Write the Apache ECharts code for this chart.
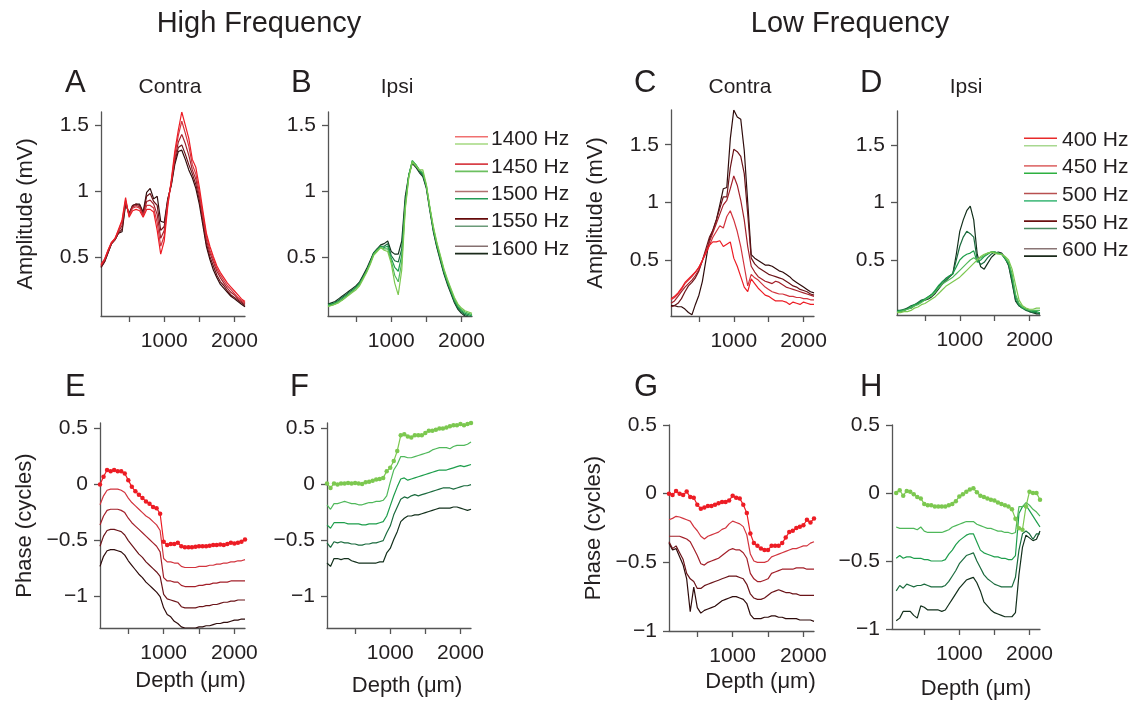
<!DOCTYPE html>
<html>
<head>
<meta charset="utf-8">
<script src="https://cdn.jsdelivr.net/npm/echarts@6/dist/echarts.min.js"></script>
<style>
html,body{margin:0;padding:0;background:#fff;}
#chart{width:1135px;height:701px;}
</style>
</head>
<body>
<div id="chart"></div>
<script>
// ---------- data ----------
const depth = [100,150,200,250,300,350,400,450,500,550,600,650,700,750,800,850,900,950,1000,1050,1100,1150,1200,1250,1300,1350,1400,1450,1500,1550,1600,1650,1700,1750,1800,1850,1900,1950,2000,2050,2100,2150];

const highFreq = ['1400 Hz','1450 Hz','1500 Hz','1550 Hz','1600 Hz'];
const lowFreq = ['400 Hz','450 Hz','500 Hz','550 Hz','600 Hz'];

const xTicks = [500,1000,1500,2000];
const xTickLabels = [1000,2000];
const ampTicks = [0.5,1,1.5];
const phaseTicksHigh = [-1,-0.5,0,0.5];
const phaseTicksLow = [-1,-0.5,0,0.5];

// A: High frequency, Contra amplitude
const ampA0 = [0.44,0.48,0.55,0.61,0.64,0.71,0.78,0.95,0.80,0.85,0.86,0.85,0.80,0.86,0.86,0.84,0.70,0.52,0.62,0.88,1.08,1.30,1.46,1.60,1.50,1.40,1.24,1.18,1.03,0.85,0.68,0.58,0.50,0.43,0.38,0.34,0.30,0.27,0.24,0.21,0.18,0.16];
const ampA1 = [0.44,0.48,0.55,0.61,0.64,0.70,0.77,0.93,0.81,0.87,0.88,0.87,0.81,0.89,0.89,0.87,0.76,0.58,0.66,0.90,1.07,1.27,1.42,1.53,1.44,1.34,1.20,1.13,0.99,0.82,0.66,0.55,0.48,0.41,0.36,0.32,0.28,0.25,0.22,0.19,0.17,0.15];
const ampA2 = [0.43,0.47,0.54,0.60,0.63,0.69,0.74,0.92,0.82,0.88,0.89,0.88,0.82,0.92,0.93,0.90,0.82,0.64,0.70,0.92,1.06,1.24,1.37,1.43,1.36,1.27,1.16,1.09,0.96,0.80,0.63,0.53,0.46,0.39,0.34,0.30,0.26,0.23,0.21,0.18,0.16,0.14];
const ampA3 = [0.42,0.46,0.53,0.60,0.63,0.68,0.71,0.91,0.82,0.89,0.90,0.89,0.83,0.96,0.98,0.92,0.89,0.70,0.73,0.93,1.05,1.22,1.33,1.35,1.28,1.20,1.13,1.05,0.93,0.77,0.60,0.50,0.43,0.36,0.31,0.28,0.24,0.21,0.19,0.17,0.15,0.13];
const ampA4 = [0.42,0.46,0.53,0.60,0.63,0.68,0.69,0.90,0.83,0.89,0.90,0.90,0.84,0.99,1.02,0.94,0.96,0.77,0.76,0.94,1.04,1.20,1.30,1.31,1.24,1.16,1.10,1.02,0.90,0.74,0.58,0.48,0.40,0.34,0.29,0.26,0.23,0.20,0.18,0.16,0.14,0.12];

// B: High frequency, Ipsi amplitude
const ampB0 = [0.12,0.13,0.14,0.15,0.17,0.19,0.21,0.23,0.25,0.28,0.33,0.38,0.44,0.51,0.54,0.57,0.55,0.54,0.45,0.30,0.21,0.40,0.86,1.10,1.22,1.19,1.16,1.16,1.05,0.88,0.73,0.61,0.51,0.41,0.33,0.26,0.19,0.14,0.11,0.09,0.08,0.07];
const ampB1 = [0.13,0.13,0.14,0.16,0.17,0.19,0.22,0.24,0.26,0.29,0.34,0.39,0.45,0.52,0.55,0.57,0.56,0.56,0.47,0.36,0.31,0.46,0.88,1.11,1.23,1.20,1.16,1.14,1.04,0.87,0.72,0.60,0.50,0.40,0.32,0.25,0.18,0.13,0.10,0.08,0.07,0.06];
const ampB2 = [0.13,0.14,0.15,0.16,0.18,0.20,0.22,0.24,0.27,0.30,0.34,0.39,0.45,0.52,0.55,0.58,0.57,0.58,0.49,0.42,0.39,0.51,0.90,1.12,1.23,1.20,1.16,1.13,1.04,0.87,0.71,0.59,0.49,0.39,0.31,0.24,0.17,0.12,0.09,0.07,0.06,0.05];
const ampB3 = [0.14,0.14,0.15,0.17,0.19,0.21,0.23,0.25,0.27,0.30,0.35,0.40,0.46,0.53,0.56,0.58,0.58,0.60,0.51,0.47,0.46,0.56,0.92,1.12,1.22,1.19,1.15,1.12,1.03,0.86,0.70,0.58,0.48,0.38,0.30,0.23,0.16,0.11,0.08,0.06,0.05,0.04];
const ampB4 = [0.14,0.15,0.16,0.18,0.20,0.22,0.24,0.26,0.28,0.31,0.36,0.41,0.47,0.53,0.56,0.59,0.60,0.62,0.54,0.52,0.52,0.62,0.96,1.12,1.21,1.18,1.14,1.11,1.02,0.85,0.69,0.57,0.47,0.37,0.29,0.22,0.15,0.10,0.07,0.05,0.04,0.03];

// C: Low frequency, Contra amplitude
const ampC0 = [0.17,0.19,0.22,0.26,0.31,0.34,0.37,0.40,0.44,0.50,0.57,0.63,0.66,0.66,0.67,0.62,0.64,0.66,0.52,0.45,0.36,0.27,0.23,0.34,0.30,0.26,0.23,0.20,0.19,0.17,0.15,0.15,0.15,0.14,0.12,0.14,0.13,0.12,0.14,0.13,0.12,0.12];
const ampC1 = [0.16,0.18,0.21,0.25,0.30,0.33,0.36,0.40,0.44,0.50,0.56,0.63,0.70,0.75,0.80,0.78,0.88,0.93,0.85,0.75,0.62,0.45,0.28,0.38,0.35,0.33,0.30,0.27,0.25,0.23,0.22,0.21,0.21,0.20,0.19,0.19,0.18,0.18,0.17,0.17,0.16,0.16];
const ampC2 = [0.13,0.15,0.19,0.23,0.27,0.30,0.33,0.37,0.42,0.50,0.58,0.66,0.74,0.82,0.90,0.98,1.02,1.12,1.23,1.15,1.02,0.85,0.62,0.45,0.40,0.36,0.34,0.32,0.31,0.30,0.32,0.31,0.29,0.27,0.26,0.25,0.24,0.23,0.22,0.21,0.20,0.19];
const ampC3 = [0.10,0.11,0.13,0.17,0.23,0.28,0.31,0.35,0.41,0.50,0.60,0.70,0.76,0.85,0.95,1.05,1.05,1.30,1.46,1.44,1.40,1.25,0.90,0.52,0.47,0.44,0.42,0.40,0.38,0.37,0.36,0.35,0.34,0.32,0.30,0.28,0.27,0.25,0.24,0.23,0.21,0.20];
const ampC4 = [0.11,0.11,0.10,0.10,0.08,0.05,0.03,0.12,0.20,0.32,0.50,0.68,0.76,0.85,0.98,1.12,1.13,1.55,1.80,1.74,1.72,1.45,1.00,0.55,0.52,0.50,0.48,0.46,0.46,0.45,0.43,0.41,0.40,0.38,0.36,0.33,0.31,0.29,0.27,0.25,0.23,0.22];

// D: Low frequency, Ipsi amplitude
const ampD0 = [0.04,0.04,0.05,0.05,0.06,0.08,0.09,0.11,0.12,0.14,0.16,0.18,0.21,0.24,0.27,0.29,0.31,0.33,0.35,0.38,0.41,0.44,0.47,0.50,0.53,0.55,0.56,0.57,0.56,0.55,0.55,0.53,0.50,0.42,0.28,0.15,0.10,0.08,0.07,0.07,0.08,0.08];
const ampD1 = [0.05,0.05,0.06,0.07,0.08,0.10,0.11,0.13,0.15,0.17,0.19,0.22,0.26,0.29,0.31,0.33,0.35,0.38,0.41,0.44,0.47,0.50,0.52,0.50,0.52,0.54,0.56,0.57,0.57,0.56,0.55,0.52,0.48,0.38,0.20,0.12,0.09,0.07,0.06,0.06,0.06,0.06];
const ampD2 = [0.05,0.06,0.06,0.07,0.09,0.11,0.12,0.14,0.16,0.18,0.20,0.24,0.28,0.31,0.33,0.36,0.38,0.44,0.50,0.53,0.55,0.56,0.58,0.48,0.50,0.53,0.55,0.57,0.57,0.56,0.55,0.51,0.47,0.35,0.18,0.11,0.08,0.07,0.06,0.05,0.05,0.04];
const ampD3 = [0.06,0.06,0.07,0.08,0.10,0.11,0.13,0.15,0.16,0.18,0.20,0.23,0.27,0.31,0.34,0.36,0.38,0.50,0.62,0.70,0.75,0.73,0.70,0.50,0.46,0.48,0.52,0.55,0.57,0.56,0.55,0.51,0.46,0.32,0.15,0.10,0.08,0.06,0.05,0.04,0.04,0.03];
const ampD4 = [0.05,0.05,0.06,0.08,0.08,0.10,0.12,0.14,0.15,0.16,0.18,0.21,0.25,0.29,0.32,0.35,0.38,0.55,0.75,0.85,0.93,0.97,0.85,0.55,0.44,0.42,0.47,0.52,0.55,0.57,0.56,0.52,0.45,0.30,0.14,0.10,0.08,0.07,0.05,0.04,0.03,0.03];

// E: High frequency, Contra phase
const phE0 = [0.00,0.07,0.13,0.12,0.13,0.12,0.12,0.10,0.04,-0.02,-0.06,-0.09,-0.12,-0.15,-0.17,-0.20,-0.21,-0.26,-0.51,-0.54,-0.53,-0.53,-0.52,-0.55,-0.56,-0.56,-0.56,-0.555,-0.55,-0.55,-0.55,-0.545,-0.54,-0.54,-0.535,-0.54,-0.53,-0.52,-0.525,-0.52,-0.51,-0.49];
const phE1 = [-0.18,-0.10,-0.05,-0.04,-0.04,-0.04,-0.05,-0.07,-0.12,-0.16,-0.19,-0.22,-0.25,-0.28,-0.30,-0.33,-0.36,-0.41,-0.66,-0.69,-0.69,-0.70,-0.70,-0.73,-0.74,-0.74,-0.74,-0.74,-0.73,-0.73,-0.73,-0.72,-0.72,-0.71,-0.71,-0.70,-0.70,-0.69,-0.69,-0.68,-0.68,-0.67];
const phE2 = [-0.36,-0.28,-0.23,-0.22,-0.22,-0.22,-0.23,-0.25,-0.30,-0.34,-0.37,-0.40,-0.43,-0.46,-0.49,-0.52,-0.55,-0.60,-0.83,-0.86,-0.86,-0.87,-0.87,-0.90,-0.91,-0.91,-0.91,-0.91,-0.90,-0.90,-0.89,-0.89,-0.88,-0.88,-0.87,-0.87,-0.87,-0.86,-0.86,-0.86,-0.86,-0.86];
const phE3 = [-0.55,-0.46,-0.41,-0.40,-0.40,-0.41,-0.42,-0.45,-0.50,-0.54,-0.58,-0.62,-0.65,-0.69,-0.72,-0.75,-0.78,-0.82,-0.98,-1.02,-1.03,-1.04,-1.05,-1.09,-1.10,-1.10,-1.10,-1.10,-1.09,-1.09,-1.08,-1.08,-1.07,-1.07,-1.06,-1.05,-1.05,-1.04,-1.04,-1.03,-1.03,-1.03];
const phE4 = [-0.73,-0.64,-0.59,-0.58,-0.58,-0.59,-0.60,-0.63,-0.68,-0.72,-0.76,-0.80,-0.83,-0.87,-0.90,-0.93,-0.96,-1.00,-1.10,-1.16,-1.18,-1.22,-1.24,-1.27,-1.28,-1.28,-1.28,-1.28,-1.27,-1.27,-1.26,-1.26,-1.25,-1.24,-1.24,-1.23,-1.23,-1.22,-1.21,-1.21,-1.20,-1.20];

// F: High frequency, Ipsi phase
const phF0 = [0.01,-0.03,0.01,0.00,0.01,0.01,0.015,0.01,0.015,0.01,0.005,0.02,0.025,0.035,0.045,0.05,0.06,0.12,0.15,0.21,0.30,0.44,0.45,0.43,0.42,0.44,0.44,0.44,0.46,0.48,0.48,0.49,0.50,0.50,0.51,0.52,0.53,0.53,0.54,0.53,0.54,0.55];
const phF1 = [-0.18,-0.22,-0.17,-0.17,-0.16,-0.15,-0.16,-0.17,-0.17,-0.18,-0.18,-0.17,-0.16,-0.16,-0.15,-0.15,-0.14,-0.10,0.02,0.13,0.18,0.25,0.25,0.24,0.24,0.25,0.26,0.27,0.28,0.29,0.31,0.32,0.33,0.33,0.33,0.32,0.34,0.35,0.35,0.35,0.36,0.38];
const phF2 = [-0.36,-0.39,-0.34,-0.34,-0.34,-0.34,-0.35,-0.35,-0.35,-0.35,-0.36,-0.36,-0.35,-0.35,-0.35,-0.34,-0.33,-0.28,-0.19,-0.10,-0.02,0.05,0.06,0.04,0.05,0.06,0.07,0.08,0.09,0.10,0.11,0.12,0.13,0.13,0.13,0.14,0.15,0.16,0.17,0.16,0.17,0.18];
const phF3 = [-0.52,-0.56,-0.51,-0.52,-0.51,-0.52,-0.52,-0.53,-0.53,-0.54,-0.54,-0.53,-0.53,-0.52,-0.52,-0.51,-0.50,-0.43,-0.37,-0.27,-0.20,-0.13,-0.11,-0.12,-0.10,-0.09,-0.10,-0.09,-0.08,-0.07,-0.06,-0.05,-0.04,-0.03,-0.03,-0.03,-0.04,-0.03,-0.02,-0.01,-0.01,0.00];
const phF4 = [-0.70,-0.73,-0.66,-0.66,-0.67,-0.66,-0.66,-0.68,-0.69,-0.70,-0.70,-0.70,-0.70,-0.70,-0.70,-0.69,-0.69,-0.61,-0.57,-0.49,-0.42,-0.33,-0.30,-0.28,-0.28,-0.27,-0.27,-0.26,-0.25,-0.24,-0.23,-0.22,-0.21,-0.21,-0.21,-0.21,-0.20,-0.20,-0.21,-0.22,-0.23,-0.22];

// G: Low frequency, Contra phase
const phG0 = [0.00,-0.01,0.02,0.00,-0.01,0.015,-0.025,-0.03,-0.08,-0.11,-0.10,-0.09,-0.09,-0.08,-0.07,-0.06,-0.06,-0.05,-0.015,-0.03,-0.035,-0.08,-0.14,-0.29,-0.36,-0.38,-0.40,-0.41,-0.41,-0.38,-0.38,-0.38,-0.36,-0.32,-0.28,-0.27,-0.25,-0.24,-0.23,-0.19,-0.21,-0.18];
const phG1 = [-0.19,-0.18,-0.165,-0.17,-0.18,-0.19,-0.20,-0.24,-0.27,-0.31,-0.33,-0.31,-0.30,-0.29,-0.28,-0.26,-0.25,-0.22,-0.20,-0.21,-0.22,-0.24,-0.30,-0.44,-0.49,-0.50,-0.50,-0.50,-0.49,-0.46,-0.45,-0.44,-0.43,-0.42,-0.41,-0.40,-0.40,-0.39,-0.38,-0.38,-0.36,-0.35];
const phG2 = [-0.31,-0.31,-0.31,-0.31,-0.32,-0.33,-0.35,-0.40,-0.45,-0.51,-0.52,-0.50,-0.49,-0.48,-0.47,-0.45,-0.43,-0.41,-0.40,-0.41,-0.41,-0.43,-0.47,-0.58,-0.62,-0.64,-0.64,-0.63,-0.62,-0.58,-0.57,-0.56,-0.55,-0.55,-0.55,-0.55,-0.54,-0.54,-0.54,-0.55,-0.55,-0.55];
const phG3 = [-0.35,-0.40,-0.38,-0.43,-0.48,-0.58,-0.62,-0.64,-0.69,-0.69,-0.67,-0.66,-0.65,-0.64,-0.63,-0.62,-0.61,-0.60,-0.60,-0.60,-0.61,-0.62,-0.66,-0.73,-0.76,-0.77,-0.77,-0.76,-0.74,-0.72,-0.71,-0.70,-0.71,-0.72,-0.72,-0.73,-0.73,-0.74,-0.74,-0.74,-0.74,-0.74];
const phG4 = [-0.36,-0.41,-0.40,-0.46,-0.52,-0.62,-0.86,-0.68,-0.83,-0.87,-0.85,-0.84,-0.83,-0.82,-0.80,-0.78,-0.77,-0.76,-0.75,-0.75,-0.76,-0.77,-0.80,-0.88,-0.91,-0.91,-0.91,-0.90,-0.90,-0.89,-0.89,-0.90,-0.90,-0.91,-0.91,-0.91,-0.91,-0.92,-0.92,-0.92,-0.92,-0.93];

// H: Low frequency, Ipsi phase
const phH0 = [0.00,0.02,-0.02,0.015,0.01,-0.01,-0.03,-0.04,-0.08,-0.09,-0.09,-0.10,-0.10,-0.10,-0.10,-0.09,-0.08,-0.06,-0.025,-0.01,0.01,0.025,0.035,0.005,-0.02,-0.03,-0.04,-0.05,-0.055,-0.07,-0.08,-0.09,-0.10,-0.12,-0.19,-0.26,-0.27,-0.10,0.01,0.00,0.00,-0.05];
const phH1 = [-0.25,-0.26,-0.26,-0.26,-0.26,-0.26,-0.27,-0.25,-0.28,-0.29,-0.29,-0.29,-0.29,-0.29,-0.28,-0.27,-0.25,-0.24,-0.23,-0.22,-0.21,-0.21,-0.21,-0.23,-0.24,-0.25,-0.26,-0.26,-0.27,-0.28,-0.28,-0.29,-0.29,-0.30,-0.29,-0.10,-0.10,-0.07,-0.09,-0.12,-0.14,-0.17];
const phH2 = [-0.48,-0.46,-0.48,-0.47,-0.47,-0.48,-0.48,-0.48,-0.49,-0.49,-0.50,-0.50,-0.50,-0.50,-0.49,-0.45,-0.42,-0.38,-0.35,-0.33,-0.31,-0.30,-0.30,-0.36,-0.42,-0.44,-0.45,-0.46,-0.47,-0.47,-0.48,-0.48,-0.49,-0.49,-0.46,-0.15,-0.10,-0.09,-0.13,-0.17,-0.21,-0.25];
const phH3 = [-0.72,-0.68,-0.70,-0.67,-0.68,-0.69,-0.68,-0.68,-0.67,-0.68,-0.69,-0.69,-0.69,-0.69,-0.68,-0.65,-0.61,-0.57,-0.52,-0.49,-0.46,-0.45,-0.44,-0.50,-0.55,-0.60,-0.63,-0.65,-0.67,-0.68,-0.69,-0.69,-0.69,-0.69,-0.62,-0.42,-0.30,-0.28,-0.30,-0.34,-0.30,-0.30];
const phH4 = [-0.94,-0.92,-0.87,-0.87,-0.87,-0.90,-0.92,-0.83,-0.84,-0.86,-0.86,-0.86,-0.86,-0.87,-0.86,-0.82,-0.78,-0.74,-0.70,-0.67,-0.64,-0.63,-0.62,-0.66,-0.72,-0.80,-0.83,-0.86,-0.88,-0.89,-0.90,-0.91,-0.91,-0.91,-0.88,-0.60,-0.40,-0.31,-0.33,-0.35,-0.34,-0.28];

// ---------- styling ----------
const reds = ['#ed1c24','#d2343e','#a3202a','#6b1419','#2e0b0b'];
const greens = ['#7cc850','#4fb85a','#1e9e4c','#1b6b3e','#13301c'];
const legendHighTop = ['#f07070','#d84048','#b07070','#650a0a','#857070'];
const legendHighBot = ['#a5d880','#6cc060','#259a55','#6a9a78','#1a2a1a'];
const legendLowTop = ['#e82a2a','#e07575','#b85050','#6a1010','#8a7575'];
const legendLowBot = ['#a8d890','#2db040','#55c088','#4a8a60','#1a2a1a'];

const FONT = "'Liberation Sans', Arial, Helvetica, sans-serif";
const TXT = '#231f20';
const AX = '#555555';

function fmt(v){
  if (v < 0) return '\u2212' + String(Math.abs(v));
  return String(v);
}
function fmtX(v){ return String(v); }

const panels = [
  {grid:{left:101,top:112,width:144,height:204}, xmin:100, ymin:0.05, ymax:1.6, yt:ampTicks, data:[ampA0,ampA1,ampA2,ampA3,ampA4], colors:reds, dotted:false, yname:'Amplitude (mV)', xname:null},
  {grid:{left:328,top:112,width:144,height:204}, xmin:100, ymin:0.05, ymax:1.6, yt:ampTicks, data:[ampB0,ampB1,ampB2,ampB3,ampB4], colors:greens, dotted:false, yname:null, xname:null},
  {grid:{left:671,top:110,width:143,height:206}, xmin:100, ymin:0.02, ymax:1.8, yt:ampTicks, data:[ampC0,ampC1,ampC2,ampC3,ampC4], colors:reds, dotted:false, yname:'Amplitude (mV)', xname:null},
  {grid:{left:897,top:111,width:143,height:204}, xmin:100, ymin:0.02, ymax:1.8, yt:ampTicks, data:[ampD0,ampD1,ampD2,ampD3,ampD4], colors:greens, dotted:false, yname:null, xname:null},
  {grid:{left:100,top:423,width:145,height:205}, xmin:100, ymin:-1.28, ymax:0.55, yt:phaseTicksHigh, data:[phE0,phE1,phE2,phE3,phE4], colors:reds, dotted:true, yname:'Phase (cycles)', xname:'Depth (\u03bcm)', xgap:42, xshift:36},
  {grid:{left:327,top:423,width:144,height:205}, xmin:100, ymin:-1.28, ymax:0.55, yt:phaseTicksHigh, data:[phF0,phF1,phF2,phF3,phF4], colors:greens, dotted:true, yname:null, xname:'Depth (\u03bcm)', xgap:47, xshift:16},
  {grid:{left:669,top:425,width:145,height:206}, xmin:100, ymin:-1, ymax:0.5, yt:phaseTicksLow, data:[phG0,phG1,phG2,phG3,phG4], colors:reds, dotted:true, yname:'Phase (cycles)', xname:'Depth (\u03bcm)', xgap:40, xshift:38},
  {grid:{left:892,top:425,width:148,height:206}, xmin:40, ymin:-1, ymax:0.5, yt:phaseTicksLow, data:[phH0,phH1,phH2,phH3,phH4], colors:greens, dotted:true, yname:null, xname:'Depth (\u03bcm)', xgap:49, xshift:20}
];

const grids = [], xAxes = [], yAxes = [], series = [];
panels.forEach((p, gi) => {
  grids.push(Object.assign({containLabel:false}, p.grid));
  xAxes.push({
    type:'value', gridIndex:gi, min:p.xmin, max:2150,
    axisLine:{show:true, onZero:false, lineStyle:{color:AX, width:1.3}},
    axisTick:{show:true, customValues:xTicks, length:6, lineStyle:{color:AX, width:1.3}},
    axisLabel:{show:true, customValues:xTickLabels, margin:15, color:TXT, fontSize:21, fontFamily:FONT, formatter:fmtX},
    splitLine:{show:false},
    name:p.xname || '', nameLocation:'middle', nameGap:p.xgap || 40,
    nameTextStyle:{color:TXT, fontSize:22, fontFamily:FONT, padding:[0,0,0,p.xshift || 0]}
  });
  yAxes.push({
    type:'value', gridIndex:gi, min:p.ymin, max:p.ymax,
    axisLine:{show:true, onZero:false, lineStyle:{color:AX, width:1.3}},
    axisTick:{show:true, customValues:p.yt, length:6, lineStyle:{color:AX, width:1.3}},
    axisLabel:{show:true, customValues:p.yt, margin:12, color:TXT, fontSize:21, fontFamily:FONT, formatter:fmt},
    splitLine:{show:false},
    name:p.yname || '', nameLocation:'middle', nameRotate:90, nameGap:64,
    nameTextStyle:{color:TXT, fontSize:22, fontFamily:FONT}
  });
  p.data.forEach((arr, si) => {
    const isDot = p.dotted && si === 0;
    series.push({
      type:'line', xAxisIndex:gi, yAxisIndex:gi,
      data: depth.map((d, i) => [d, arr[i]]),
      showSymbol:isDot, symbol:'circle', symbolSize:4.5,
      lineStyle:{color:p.colors[si], width:1.2},
      itemStyle:{color:p.colors[si]},
      z: 10 - si,
      animation:false, silent:true
    });
  });
});

// ---------- text and legends ----------
function txt(x, y, s, size, align){
  return {type:'text', x:x, y:y, silent:true,
    style:{text:s, fill:TXT, font:size + 'px ' + FONT,
      textAlign:align || 'center', textVerticalAlign:'middle',
      align:align || 'center', verticalAlign:'middle'}};
}
const graphics = [
  txt(259, 24, 'High Frequency', 29),
  txt(850, 24, 'Low Frequency', 29),
  txt(65, 83, 'A', 31, 'left'), txt(291, 83, 'B', 31, 'left'),
  txt(634, 83, 'C', 31, 'left'), txt(860, 83, 'D', 31, 'left'),
  txt(65, 387, 'E', 31, 'left'), txt(290, 387, 'F', 31, 'left'),
  txt(634, 387, 'G', 31, 'left'), txt(860, 387, 'H', 31, 'left'),
  txt(170, 87, 'Contra', 21), txt(397, 87, 'Ipsi', 21),
  txt(740, 87, 'Contra', 21), txt(966, 87, 'Ipsi', 21)
];
function legend(x1, x2, tx, y0, dy, topOff, botOff, labels, topC, botC){
  labels.forEach((lab, i) => {
    const y = y0 + dy * i;
    graphics.push({type:'line', silent:true, shape:{x1:x1, y1:y + topOff, x2:x2, y2:y + topOff}, style:{stroke:topC[i], lineWidth:1.6}});
    graphics.push({type:'line', silent:true, shape:{x1:x1, y1:y + botOff, x2:x2, y2:y + botOff}, style:{stroke:botC[i], lineWidth:1.6}});
    graphics.push(txt(tx, y, lab, 21, 'left'));
  });
}
legend(455, 488, 491, 139.5, 27.4, -2.8, 4.5, highFreq, legendHighTop, legendHighBot);
legend(1024, 1057, 1062, 140, 27.6, -1.7, 5.7, lowFreq, legendLowTop, legendLowBot);

const chart = echarts.init(document.getElementById('chart'), null, {renderer:'canvas'});
chart.setOption({
  backgroundColor:'#ffffff',
  animation:false,
  grid:grids, xAxis:xAxes, yAxis:yAxes, series:series,
  graphic:graphics
});
</script>
</body>
</html>
